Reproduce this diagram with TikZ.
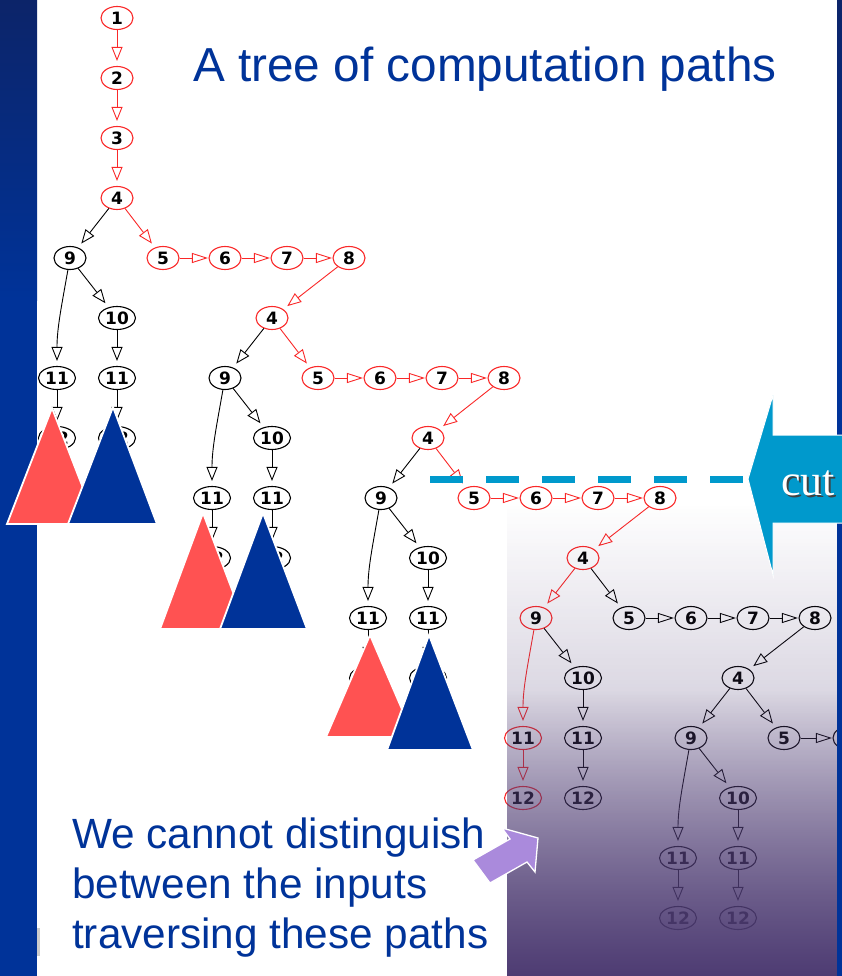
\documentclass[tikz,border=0pt]{standalone}
\usepackage{fontspec}
\setmainfont{Liberation Sans}
\newfontfamily\cutfont{Liberation Serif}
\newfontfamily\numfont{DejaVu Sans}
\usetikzlibrary{arrows.meta,shapes.geometric,fadings}
\definecolor{tblue}{RGB}{0,51,153}
\definecolor{dblue}{RGB}{12,36,105}
\definecolor{gred}{RGB}{250,40,40}
\definecolor{trired}{RGB}{255,82,82}
\definecolor{cutc}{RGB}{0,153,204}
\definecolor{pov}{RGB}{78,60,115}
\definecolor{parr}{RGB}{170,138,220}

\tikzfading[name=fadedown, top color=transparent!100, bottom color=transparent!0]

\tikzset{
 nd/.style={ellipse, draw=black, fill=white, line width=1.1pt, minimum width=32pt, minimum height=23pt, inner sep=0pt, font=\numfont\bfseries\fontsize{17}{17}\selectfont},
 nd2/.style={nd, minimum width=37pt},
 ed/.style={-{Triangle[open,length=14pt,width=11pt]}, line width=0.9pt, shorten >=5pt},
 edh/.style={-{Triangle[open,length=16pt,width=10pt]}, line width=0.9pt, shorten >=0.5pt},
 tribox/.style={draw=white, line width=1.8pt, line join=miter}
}

% #1 prefix, #2 position, #3 colour of node 4, #4 colour of 4->5 and 5, #5 colour of left branch
\newcommand{\ctree}[5]{%
 \begin{scope}[shift={#2}]
  \node[nd,draw=#3] (#1-4) at (0,0) {4};
  \node[nd,draw=#5] (#1-9) at (-47,60) {9};
  \node[nd,draw=#4] (#1-5) at (46,60) {5};
  \node[nd2] (#1-10) at (0,120) {10};
  \node[nd2,draw=#5] (#1-11a) at (-60,180) {11};
  \node[nd2] (#1-11b) at (0,180) {11};
  \node[nd2,draw=#5] (#1-12a) at (-60,240) {12};
  \node[nd2] (#1-12b) at (0,240) {12};
 \end{scope}
 \draw[ed,draw=#5] (#1-4) -- (#1-9);
 \draw[ed,draw=#4] (#1-4) -- (#1-5);
 \draw[ed,draw=#5] (#1-9) to[out=-100,in=90] (#1-11a);
 \draw[ed] (#1-9) -- (#1-10);
 \draw[ed] (#1-10) -- (#1-11b);
 \draw[ed,draw=#5] (#1-11a) -- (#1-12a);
 \draw[ed] (#1-11b) -- (#1-12b);
}
\newcommand{\cchain}[3]{%
 \begin{scope}[shift={#2}]
  \node[nd,draw=#3] (#1-6) at (108,60) {6};
  \node[nd,draw=#3] (#1-7) at (170,60) {7};
  \node[nd,draw=#3] (#1-8) at (232,60) {8};
 \end{scope}
 \draw[edh,draw=#3] (#1-5) -- (#1-6);
 \draw[edh,draw=#3] (#1-6) -- (#1-7);
 \draw[edh,draw=#3] (#1-7) -- (#1-8);
}

\begin{document}
\begin{tikzpicture}[x=1pt,y=-1pt]
\useasboundingbox (0,0) rectangle (842,976);
\clip (0,0) rectangle (842,976);
\fill[white] (0,0) rectangle (842,976);

% side bands
\fill[tblue] (0,0) rectangle (37,976);
\shade[top color=dblue, bottom color=tblue] (0,0) rectangle (37,300);
\fill[tblue] (837,0) rectangle (842,976);
\shade[top color=dblue, bottom color=tblue] (837,0) rectangle (842,300);
\fill[black!20] (37,928) rectangle (40,956);

% root chain
\node[nd,draw=gred] (r1) at (117,18) {1};
\node[nd,draw=gred] (r2) at (117,78) {2};
\node[nd,draw=gred] (r3) at (117,138) {3};

\ctree{t1}{(117,198)}{gred}{gred}{black}
\cchain{t1}{(117,198)}{gred}
\ctree{t2}{(272,318)}{gred}{gred}{black}
\cchain{t2}{(272,318)}{gred}
\ctree{t3}{(428,438)}{gred}{gred}{black}
\cchain{t3}{(428,438)}{gred}
\ctree{t4}{(583,558)}{gred}{black}{gred}
\cchain{t4}{(583,558)}{black}
\ctree{t5}{(738,678)}{black}{black}{black}
\node[nd] (t5-6) at (849,738) {6};
\draw[edh] (t5-5) -- (t5-6);

\draw[ed,gred] (r1) -- (r2);
\draw[ed,gred] (r2) -- (r3);
\draw[ed,gred] (r3) -- (t1-4);
\draw[ed,gred] (t1-8) -- (t2-4);
\draw[ed,gred] (t2-8) -- (t3-4);
\draw[ed,gred] (t3-8) -- (t4-4);
\draw[ed] (t4-8) -- (t5-4);

% triangles
\fill[trired,tribox] (52,408) -- (97,524) -- (7,524) -- cycle;
\fill[tblue,tribox] (113,407) -- (157,524) -- (68,524) -- cycle;
\fill[trired,tribox] (203,513) -- (247,629) -- (160,629) -- cycle;
\fill[tblue,tribox] (263,513) -- (307,629) -- (220,629) -- cycle;
\fill[trired,tribox] (370,635) -- (414,737) -- (326,737) -- cycle;
\fill[tblue,tribox] (429,635) -- (473,750) -- (387,750) -- cycle;

% purple overlay (two stacked fadings)
\fill[pov, fill opacity=0.5, path fading=fadedown, fit fading=true] (507,505) rectangle (837,976);
\fill[pov, fill opacity=1, path fading=fadedown, fit fading=true] (507,690) rectangle (837,976);
\fill[tblue] (837,500) rectangle (842,976);

% cut line and arrow
\coordinate (dl) at (430,479);
\coordinate (ctip) at (748,479);
\draw[cutc, line width=7pt, dash pattern=on 33pt off 23pt] (dl) -- (ctip);
\fill[cutc, draw=white, line width=1pt] (ctip) -- (773,395) -- (773,435) -- (846,435) -- (846,523) -- (773,523) -- (773,575) -- cycle;
\node[anchor=base, inner sep=0, text=black!75, font=\cutfont\fontsize{44}{44}\selectfont] (cutsh) at (810,497) {cut};
\node[anchor=base, inner sep=0, text=white, font=\cutfont\fontsize{44}{44}\selectfont] (cuttx) at (808,495) {cut};

% texts
\node[anchor=base west, inner sep=0, text=tblue, font=\fontsize{47.7}{50}\selectfont] (title) at (193,82) {A tree of computation paths};
\node[anchor=base west, inner sep=0, text=tblue, font=\fontsize{42.3}{50}\selectfont] (l1) at (72,848) {We cannot distinguish};
\node[anchor=base west, inner sep=0, text=tblue, font=\fontsize{42.3}{50}\selectfont] (l2) at (72,898) {between the inputs};
\node[anchor=base west, inner sep=0, text=tblue, font=\fontsize{42.3}{50}\selectfont] (l3) at (72,948) {traversing these paths};

% purple arrow
\fill[parr, draw=white, line width=1.3pt, line join=miter] (473,860) -- (510,839) -- (502,828) -- (538,838) -- (535,872) -- (527,862) -- (490,883) -- cycle;
\end{tikzpicture}
\end{document}
